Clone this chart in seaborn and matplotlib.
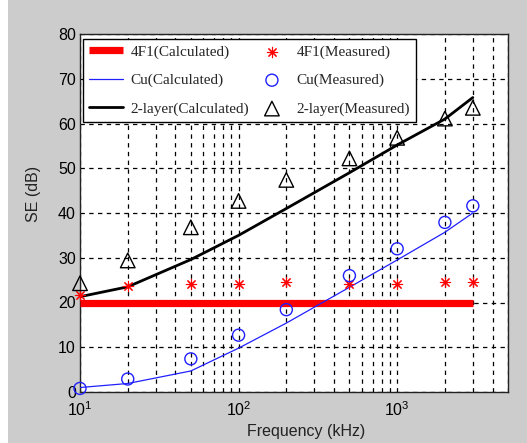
import numpy as np
import pandas as pd
import matplotlib
matplotlib.use("Agg")
import matplotlib.pyplot as plt
from matplotlib.patches import Rectangle
from matplotlib.ticker import LogLocator, NullFormatter
import seaborn as sns

# Frequencies (kHz) at which shielding effectiveness was evaluated
freq = [10, 20, 50, 100, 200, 500, 1000, 2000, 3000]

# Shielding effectiveness (dB)
se_4f1_calc = [20, 20, 20, 20, 20, 20, 20, 20, 20]
se_4f1_meas = [21.7, 23.6, 24.1, 24.1, 24.5, 24.1, 24.1, 24.5, 24.5]
se_cu_calc = [1.0, 1.9, 4.7, 9.8, 15.4, 23.4, 29.5, 35.7, 40.0]
se_cu_meas = [0.8, 2.9, 7.4, 12.7, 18.4, 26.0, 32.0, 37.9, 41.6]
se_2l_calc = [21.3, 23.5, 29.6, 35.0, 41.0, 49.0, 55.2, 61.0, 65.8]
se_2l_meas = [24.3, 29.4, 36.8, 42.7, 47.4, 52.2, 56.8, 61.1, 63.5]

labels_calc = ["4F1(Calculated)", "Cu(Calculated)", "2-layer(Calculated)"]
labels_meas = ["4F1(Measured)", "Cu(Measured)", "2-layer(Measured)"]
y_ticks = [0, 10, 20, 30, 40, 50, 60, 70, 80]

df = pd.DataFrame({
    "freq": freq,
    "4F1c": se_4f1_calc, "4F1m": se_4f1_meas,
    "Cuc": se_cu_calc, "Cum": se_cu_meas,
    "2Lc": se_2l_calc, "2Lm": se_2l_meas,
})

sns.set_theme(style="white")
plt.rcParams["font.family"] = ["Liberation Sans", "DejaVu Sans"]

grey = "#cccccc"
fig = plt.figure(figsize=(5.27, 4.43), dpi=100, facecolor=grey)
fig.patches.append(Rectangle((0, 0), 8 / 527, 1, transform=fig.transFigure,
                             facecolor="white", edgecolor="none", zorder=-10))
ax = fig.add_axes([80 / 527, 1 - 392 / 443, 428 / 527, 358 / 443])
ax.set_facecolor("white")

# Calculated curves
sns.lineplot(data=df, x="freq", y="4F1c", ax=ax, color="#ff0000", linewidth=5.2,
             label=labels_calc[0], zorder=3, solid_capstyle="butt")
sns.lineplot(data=df, x="freq", y="Cuc", ax=ax, color="#2020ff", linewidth=0.9,
             label=labels_calc[1], zorder=3)
sns.lineplot(data=df, x="freq", y="2Lc", ax=ax, color="black", linewidth=2.0,
             label=labels_calc[2], zorder=3)

# Measured points
sns.scatterplot(data=df, x="freq", y="4F1m", ax=ax, marker=(8, 2, 0), s=55,
                color="#ff0000", edgecolor="#ff0000", linewidth=0.8,
                label=labels_meas[0], zorder=4, clip_on=False)
sns.scatterplot(data=df, x="freq", y="Cum", ax=ax, marker="o", s=75,
                facecolor="none", edgecolor="#2020ff", linewidth=1.0,
                label=labels_meas[1], zorder=4, clip_on=False)
sns.scatterplot(data=df, x="freq", y="2Lm", ax=ax, marker="^", s=110,
                facecolor="none", edgecolor="black", linewidth=1.0,
                label=labels_meas[2], zorder=4, clip_on=False)

ax.set_xscale("log")
ax.set_xlim(10, 5000)
ax.set_ylim(0, 80)
ax.set_yticks(y_ticks)
ax.xaxis.set_minor_locator(LogLocator(base=10, subs=np.arange(2, 10)))
ax.xaxis.set_minor_formatter(NullFormatter())

grid_kw = dict(color="black", linestyle=(0, (3.5, 3.5)), linewidth=0.9)
ax.grid(True, which="major", axis="both", **grid_kw)
ax.grid(True, which="minor", axis="x", **grid_kw)
ax.set_axisbelow(True)

for s in ax.spines.values():
    s.set_color("#222222")
    s.set_linewidth(1.0)

ax.tick_params(axis="both", which="both", direction="in", colors="black",
               labelsize=11.5, length=3, pad=3)
ax.tick_params(axis="x", which="major", pad=6)
ax.tick_params(axis="x", which="minor", length=2)

ax.set_xlabel("Frequency (kHz)", fontsize=11.5, color="#222222")
ax.set_ylabel("SE (dB)", fontsize=11.5, color="#222222")
ax.xaxis.set_label_coords(0.528, -0.088)
ax.yaxis.set_label_coords(-0.09, 0.553)

handles, lbls = ax.get_legend_handles_labels()
order = [labels_calc[0], labels_calc[1], labels_calc[2],
         labels_meas[0], labels_meas[1], labels_meas[2]]
hmap = dict(zip(lbls, handles))
leg = ax.legend([hmap[k] for k in order], order, ncol=2, loc="upper left",
                bbox_to_anchor=(0.007, 0.986, 0.778, 0.0), mode="expand",
                fancybox=False, framealpha=1.0, edgecolor="black",
                borderaxespad=0, borderpad=0.4, handlelength=2.2,
                handletextpad=0.5, labelspacing=0.95, columnspacing=0.5,
                prop={"family": "Liberation Serif", "size": 11})
leg.get_frame().set_linewidth(1.0)
leg.set_zorder(10)

fig.savefig("out.png", dpi=100, facecolor=grey)
